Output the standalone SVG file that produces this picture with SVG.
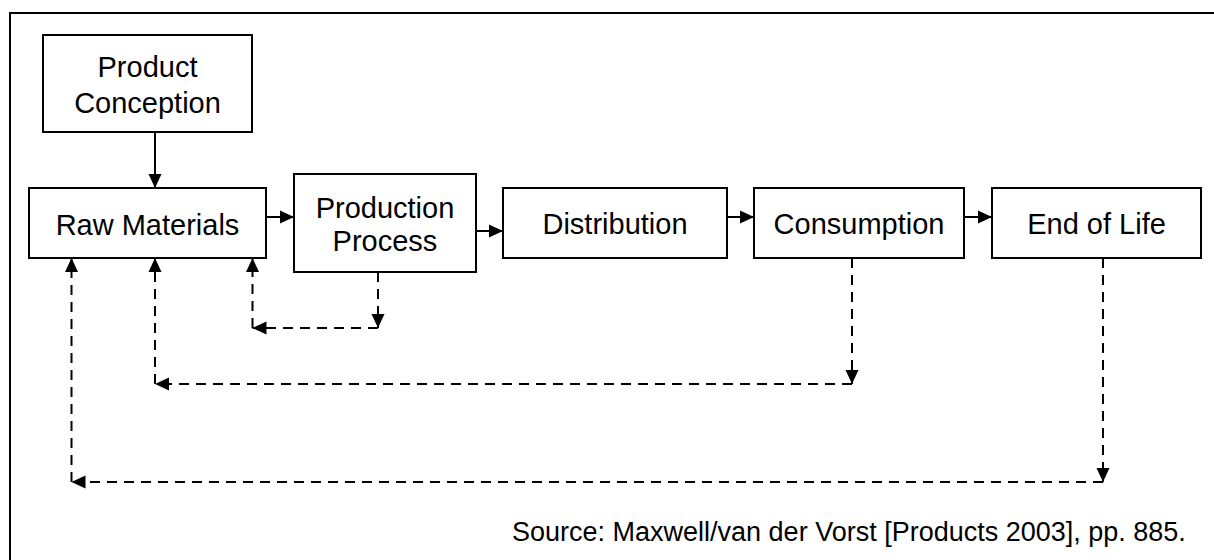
<svg xmlns="http://www.w3.org/2000/svg" width="1214" height="560" viewBox="0 0 1214 560">
  <style>
    .box { fill: #ffffff; stroke: #000000; stroke-width: 2; }
    .label { font-family: "Liberation Sans", Arial, sans-serif; font-size: 29px; fill: #000000; text-anchor: middle; }
    .note { font-family: "Liberation Sans", Arial, sans-serif; font-size: 27px; fill: #000000; }
    .solid { fill: none; stroke: #000000; stroke-width: 2; marker-end: url(#head); }
    .dash { fill: none; stroke: #000000; stroke-width: 2; stroke-dasharray: 10 7; marker-end: url(#head); }
  </style>
  <defs>
    <marker id="head" markerUnits="userSpaceOnUse" markerWidth="14" markerHeight="14" refX="14" refY="7" orient="auto">
      <path d="M0,0.5 L14,7 L0,13.5 z" fill="#000000"/>
    </marker>
  </defs>

  <rect width="1214" height="560" fill="#ffffff"/>
  <!-- outer frame -->
  <rect x="10" y="13" width="1230" height="570" fill="none" stroke="#000000" stroke-width="2"/>

  <g id="product-conception">
    <rect class="box" x="43" y="35" width="209" height="97"/>
    <text class="label" x="147.5" y="77">Product</text>
    <text class="label" x="147.5" y="113">Conception</text>
  </g>
  <g id="raw-materials">
    <rect class="box" x="29" y="188" width="237" height="70"/>
    <text class="label" x="147.5" y="235">Raw Materials</text>
  </g>
  <g id="production-process">
    <rect class="box" x="294" y="174" width="182" height="98"/>
    <text class="label" x="385" y="218">Production</text>
    <text class="label" x="385" y="251">Process</text>
  </g>
  <g id="distribution">
    <rect class="box" x="503" y="188" width="224" height="70"/>
    <text class="label" x="615" y="234">Distribution</text>
  </g>
  <g id="consumption">
    <rect class="box" x="754" y="188" width="210" height="70"/>
    <text class="label" x="859" y="234">Consumption</text>
  </g>
  <g id="end-of-life">
    <rect class="box" x="992" y="188" width="209" height="70"/>
    <text class="label" x="1096.5" y="234">End of Life</text>
  </g>

  <g id="connectors">
    <!-- main flow -->
    <path class="solid" d="M155,132 V188"/>
    <path class="solid" d="M266,217 H294"/>
    <path class="solid" d="M476,231 H503"/>
    <path class="solid" d="M727,217 H754"/>
    <path class="solid" d="M964,217 H992"/>

    <!-- recycling loops back to raw materials -->
    <path class="dash" d="M378,272 V328"/>
    <path class="dash" d="M378,328 H252.5"/>
    <path class="dash" d="M252.5,328 V258"/>

    <path class="dash" d="M852,258 V384"/>
    <path class="dash" d="M852,384 H155"/>
    <path class="dash" d="M155,384 V258"/>

    <path class="dash" d="M1103,258 V482"/>
    <path class="dash" d="M1103,482 H71.5"/>
    <path class="dash" d="M71.5,482 V258"/>
  </g>

  <text class="note" x="512" y="541">Source: Maxwell/van der Vorst [Products 2003], pp. 885.</text>
</svg>
